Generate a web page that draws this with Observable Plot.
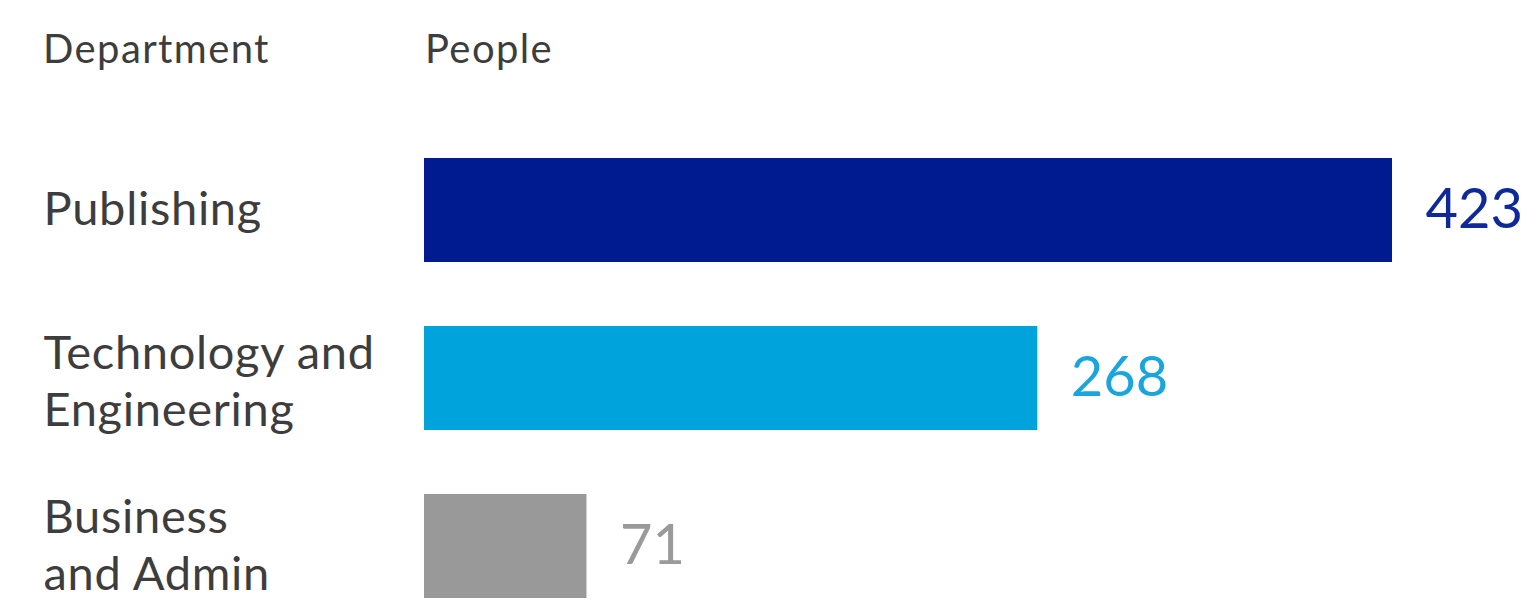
<!DOCTYPE html>
<html>
<head>
<meta charset="utf-8">
<script src="https://cdn.jsdelivr.net/npm/d3@7"></script>
<script src="https://cdn.jsdelivr.net/npm/@observablehq/plot@0.6"></script>
<style>
  html, body { margin: 0; padding: 0; background: #fff; }
  #wrap { width: 1538px; font-family: Lato, "Open Sans", sans-serif; }
  #head { position: relative; height: 100px; color: #3d3d3d; font-size: 40px; line-height: 40px; letter-spacing: 1.4px; }
  #head span { position: absolute; top: 28px; }
</style>
</head>
<body>
<div id="wrap">
  <div id="head"><span style="left:43px">Department</span><span style="left:425px">People</span></div>
  <div id="chart"></div>
</div>
<script>
const departments = ["Publishing", "Technology and\nEngineering", "Business\nand Admin"];
const people = [423, 268, 71];
const barColors = ["#001a8f", "#00a3db", "#999999"];
const labelColors = ["#0f2a98", "#1aa6dc", "#9a9a9a"];

const data = departments.map((d, i) => ({dept: d, value: people[i], bar: barColors[i], lab: labelColors[i]}));

const labelOpts = {y: "dept", text: "dept", frameAnchor: "left", dx: -381, textAnchor: "start", fontSize: 47, lineHeight: 1.21, fill: "#3d3d3d"};

const chart = Plot.plot({
  width: 1538,
  height: 500,
  marginLeft: 424,
  marginRight: 146,
  marginTop: 58,
  marginBottom: 2,
  style: {fontFamily: "Lato, 'Open Sans', sans-serif", background: "#fff"},
  x: {domain: [0, 423], axis: null},
  y: {domain: departments, paddingInner: 0.381, paddingOuter: 0, axis: null},
  marks: [
    Plot.barX(data, {x: "value", y: "dept", fill: "bar"}),
    Plot.text(data.slice(0, 1), {...labelOpts, dy: -4}),
    Plot.text(data.slice(1, 2), {...labelOpts, dy: 1}),
    Plot.text(data.slice(2, 3), {...labelOpts, dy: -3}),
    Plot.text(data, {x: "value", y: "dept", text: d => String(d.value), dx: 33, dy: 0, textAnchor: "start", fontSize: 56, fill: "lab"})
  ]
});
chart.querySelectorAll('g[font-size="47"] text').forEach(t => { t.style.letterSpacing = "0.7px"; });
document.getElementById("chart").appendChild(chart);
</script>
</body>
</html>
